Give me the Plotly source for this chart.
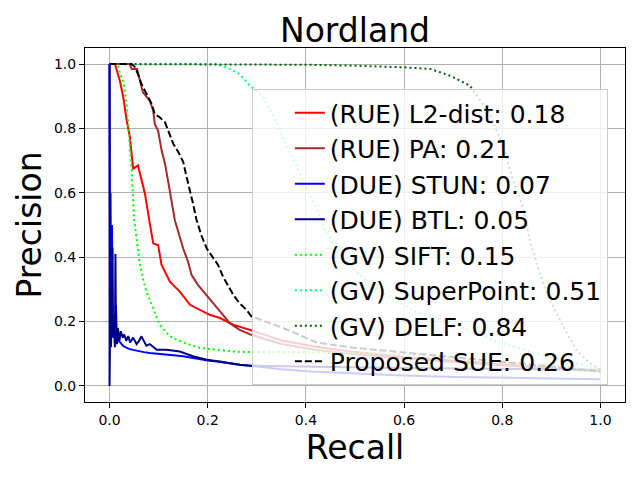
import plotly.graph_objects as go

# ---------------- data ----------------
l2_recall = [0.0, 0.011, 0.021, 0.028, 0.035, 0.041, 0.045, 0.048, 0.058, 0.065, 0.072, 0.082,
             0.089, 0.099, 0.106, 0.123, 0.143, 0.164, 0.184, 0.204, 0.225, 0.252, 0.286, 0.353,
             0.42, 0.5, 0.6, 0.7, 0.8, 0.9, 1.0]
l2_precision = [1.0, 1.0, 0.948, 0.897, 0.824, 0.778, 0.721, 0.675, 0.685, 0.639, 0.598, 0.505,
                0.443, 0.437, 0.376, 0.324, 0.293, 0.252, 0.236, 0.221, 0.211, 0.190, 0.174, 0.140,
                0.122, 0.105, 0.09, 0.078, 0.066, 0.056, 0.046]

pa_recall = [0.0, 0.041, 0.045, 0.056, 0.062, 0.068, 0.082, 0.089, 0.092, 0.099, 0.106, 0.113,
             0.119, 0.126, 0.133, 0.140, 0.150, 0.160, 0.167, 0.180, 0.198, 0.214, 0.231, 0.245,
             0.265, 0.286, 0.35, 0.42, 0.5, 0.6, 0.7, 0.8, 0.9, 1.0]
pa_precision = [1.0, 1.0, 0.985, 0.985, 0.948, 0.912, 0.886, 0.855, 0.814, 0.793, 0.732, 0.690,
                0.639, 0.577, 0.515, 0.479, 0.427, 0.386, 0.345, 0.314, 0.283, 0.252, 0.221, 0.195,
                0.174, 0.160, 0.130, 0.112, 0.098, 0.085, 0.074, 0.064, 0.054, 0.045]

stun_recall = [0.0, 0.001, 0.002, 0.003, 0.005, 0.006, 0.008, 0.010, 0.013, 0.015, 0.018, 0.022,
               0.027, 0.033, 0.040, 0.048, 0.058, 0.070, 0.082, 0.100, 0.116, 0.130, 0.150, 0.170,
               0.184, 0.200, 0.218, 0.240, 0.265, 0.290, 0.350, 0.410, 0.500, 0.600, 0.700,
               0.800, 0.900, 1.0]
stun_precision = [1.0, 0.35, 0.60, 0.30, 0.50, 0.20, 0.22, 0.15, 0.25, 0.15, 0.14, 0.135,
                  0.125, 0.12, 0.115, 0.112, 0.108, 0.105, 0.102, 0.100, 0.097, 0.095, 0.092, 0.087,
                  0.082, 0.079, 0.076, 0.071, 0.066, 0.062, 0.052, 0.045, 0.038, 0.032, 0.028,
                  0.025, 0.023, 0.021]

btl_recall = [0.0, 0.0, 0.002, 0.003, 0.004, 0.006, 0.007, 0.009, 0.011, 0.012, 0.013, 0.015,
              0.017, 0.020, 0.023, 0.027, 0.030, 0.034, 0.038, 0.042, 0.048, 0.055, 0.060, 0.065,
              0.070, 0.075, 0.082, 0.096, 0.116, 0.143, 0.170, 0.198, 0.225, 0.265, 0.29, 0.35,
              0.45, 0.6, 0.8, 1.0]
btl_precision = [1.0, 0.0, 0.30, 0.12, 0.20, 0.43, 0.15, 0.18, 0.12, 0.41, 0.16, 0.13,
                 0.18, 0.14, 0.17, 0.15, 0.16, 0.14, 0.155, 0.135, 0.15, 0.13, 0.14, 0.154,
                 0.14, 0.125, 0.13, 0.112, 0.112, 0.107, 0.092, 0.081, 0.076, 0.066, 0.063, 0.061,
                 0.059, 0.056, 0.053, 0.05]

sift_recall = [0.0, 0.017, 0.021, 0.028, 0.035, 0.038, 0.041, 0.045, 0.048, 0.050, 0.055, 0.058,
               0.062, 0.068, 0.075, 0.089, 0.102, 0.123, 0.150, 0.184, 0.218, 0.252, 0.286, 0.41,
               0.5, 0.6, 0.7, 0.8, 0.9, 1.0]
sift_precision = [1.0, 1.0, 0.969, 0.948, 0.876, 0.824, 0.752, 0.670, 0.587, 0.520, 0.458, 0.417,
                  0.376, 0.334, 0.293, 0.241, 0.190, 0.154, 0.135, 0.118, 0.112, 0.107, 0.105, 0.105,
                  0.102, 0.097, 0.088, 0.077, 0.064, 0.046]

sp_recall = [0.0, 0.218, 0.238, 0.265, 0.286, 0.312, 0.340, 0.360, 0.381, 0.401, 0.422, 0.442,
             0.469, 0.507, 0.544, 0.564, 0.625, 0.686, 0.741, 0.788, 0.860, 0.924, 1.0]
sp_precision = [1.0, 1.0, 0.99, 0.969, 0.933, 0.900, 0.820, 0.747, 0.685, 0.613, 0.551, 0.479,
                0.406, 0.350, 0.300, 0.283, 0.231, 0.200, 0.169, 0.138, 0.105, 0.081, 0.050]

delf_recall = [0.0, 0.3, 0.4, 0.5, 0.6, 0.653, 0.694, 0.734, 0.775, 0.802, 0.822, 0.842, 0.856,
               0.876, 0.897, 0.924, 0.951, 0.978, 1.0]
delf_precision = [1.0, 1.0, 0.998, 0.995, 0.99, 0.985, 0.964, 0.933, 0.845, 0.742, 0.639, 0.556,
                  0.453, 0.350, 0.267, 0.185, 0.112, 0.071, 0.050]

sue_recall = [0.0, 0.045, 0.052, 0.058, 0.065, 0.075, 0.086, 0.092, 0.102, 0.113, 0.119, 0.130,
              0.140, 0.150, 0.157, 0.164, 0.170, 0.177, 0.187, 0.198, 0.211, 0.221, 0.231, 0.242,
              0.252, 0.265, 0.279, 0.289, 0.354, 0.421, 0.5, 0.6, 0.7, 0.8, 0.9, 1.0]
sue_precision = [1.0, 1.0, 0.99, 0.969, 0.938, 0.907, 0.876, 0.845, 0.835, 0.819, 0.793, 0.752,
                 0.727, 0.696, 0.649, 0.608, 0.567, 0.517, 0.468, 0.427, 0.396, 0.376, 0.340, 0.309,
                 0.283, 0.257, 0.236, 0.216, 0.180, 0.135, 0.118, 0.104, 0.090, 0.075, 0.060, 0.045]

labels = ["(RUE) L2-dist: 0.18", "(RUE) PA: 0.21", "(DUE) STUN: 0.07", "(DUE) BTL: 0.05",
          "(GV) SIFT: 0.15", "(GV) SuperPoint: 0.51", "(GV) DELF: 0.84", "Proposed SUE: 0.26"]
tick_vals = [0.0, 0.2, 0.4, 0.6, 0.8, 1.0]
tick_text = ["0.0", "0.2", "0.4", "0.6", "0.8", "1.0"]

# ---------------- figure ----------------
series = [
    (l2_recall, l2_precision, "#FF0000", "solid"),
    (pa_recall, pa_precision, "#A52A2A", "solid"),
    (stun_recall, stun_precision, "#0000FF", "solid"),
    (btl_recall, btl_precision, "#00008B", "solid"),
    (sift_recall, sift_precision, "#00FF00", "2px,3px"),
    (sp_recall, sp_precision, "#00FF7F", "2px,3px"),
    (delf_recall, delf_precision, "#006400", "2px,3px"),
    (sue_recall, sue_precision, "#000000", "7px,3px"),
]

fig = go.Figure()
for (xs, ys, col, dash), name in zip(series, labels):
    fig.add_trace(go.Scatter(x=xs, y=ys, mode="lines", name=name,
                             line=dict(color=col, width=2, dash=dash)))

axis_common = dict(
    showline=True, linecolor="black", linewidth=1, mirror=True,
    ticks="outside", ticklen=5, tickcolor="black", tickwidth=1,
    showgrid=True, gridcolor="#b0b0b0", gridwidth=1, zeroline=False,
    tickvals=tick_vals, ticktext=tick_text, automargin=False,
    tickfont=dict(family="DejaVu Sans", size=14, color="black"),
)

# the page body adds an 8px offset, so the figure is sized 632x472
fig.update_layout(
    width=632, height=472,
    paper_bgcolor="white", plot_bgcolor="white",
    margin=dict(l=77, r=15, t=40, b=78),
    title=dict(text="Nordland", x=0.5, xref="paper", xanchor="center",
               y=1 - 22 / 472, yref="container", yanchor="middle",
               font=dict(family="DejaVu Sans", size=33, color="black")),
    xaxis=dict(range=[-0.05, 1.05],
               title=dict(text="Recall", standoff=0,
                          font=dict(family="DejaVu Sans", size=33, color="black")),
               **axis_common),
    yaxis=dict(range=[-0.05, 1.05],
               title=dict(text="Precision", standoff=2,
                          font=dict(family="DejaVu Sans", size=33, color="black")),
               **axis_common),
    legend=dict(x=0.309, y=0.884, xanchor="left", yanchor="top",
                bgcolor="rgba(255,255,255,0.8)", bordercolor="#cccccc", borderwidth=1,
                font=dict(family="DejaVu Sans", size=25, color="black"),
                indentation=37),
    showlegend=True,
)

fig.write_html("out.html")
